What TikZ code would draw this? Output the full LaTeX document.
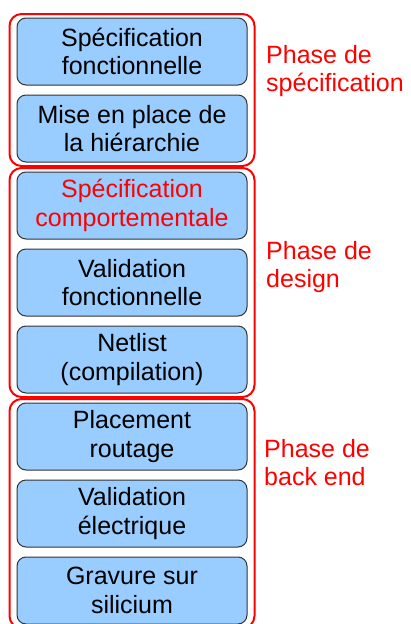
\documentclass[tikz,border=0pt]{standalone}
\usepackage{fontspec}
\setmainfont{Liberation Sans}
\usepackage{tikz}
\usetikzlibrary{positioning, fit, backgrounds}
\definecolor{stepfill}{RGB}{153,204,255}
\definecolor{phasered}{RGB}{255,0,0}
\tikzset{
    stagebox/.style={
        rectangle,
        rounded corners=9pt,
        draw=black!80,
        line width=1pt,
        fill=stepfill,
        align=center,
        minimum width=230pt,
        minimum height=67pt,
        inner sep=0pt,
        font=\fontsize{25}{28.5}\selectfont
    },
    phasebox/.style={
        rectangle,
        draw=phasered,
        line width=2pt,
        rounded corners=12pt,
        inner xsep=7pt,
        inner ysep=3.5pt
    },
    phaselabel/.style={
        text=phasered,
        align=left,
        inner sep=0pt,
        anchor=north west,
        font=\fontsize{25}{28.5}\selectfont
    }
}

\begin{document}
\begin{tikzpicture}[x=1pt, y=-1pt, node distance=9pt]

\useasboundingbox (0,0) rectangle (411,624);
\clip (0,0) rectangle (411,624);

% Specification stages
\node[stagebox] (spec_fonc) at (132,51.5) {Spécification\\fonctionnelle};
\node[stagebox, below=of spec_fonc] (hierarchie) {Mise en place de\\la hiérarchie};

% Design stages
\node[stagebox, below=of hierarchie, text=phasered] (spec_comp) {Spécification\\comportementale};
\node[stagebox, below=of spec_comp] (valid_fonc) {Validation\\fonctionnelle};
\node[stagebox, below=of valid_fonc] (netlist) {Netlist\\(compilation)};

% Back end stages
\node[stagebox, below=of netlist] (placement) {Placement\\routage};
\node[stagebox, below=of placement] (valid_elec) {Validation\\électrique};
\node[stagebox, below=of valid_elec] (gravure) {Gravure sur\\silicium};

% Phase frames
\begin{scope}[on background layer]
\node[phasebox, fit=(spec_fonc) (hierarchie)] (grp_spec) {};
\node[phasebox, fit=(spec_comp) (valid_fonc) (netlist)] (grp_design) {};
\node[phasebox, fit=(placement) (valid_elec) (gravure)] (grp_backend) {};
\end{scope}

% Phase names
\node[phaselabel] (lbl_spec) at (266,45) {Phase de\\spécification};
\node[phaselabel] (lbl_design) at (266,241) {Phase de\\design};
\node[phaselabel] (lbl_backend) at (264,439) {Phase de\\back end};

\end{tikzpicture}
\end{document}
